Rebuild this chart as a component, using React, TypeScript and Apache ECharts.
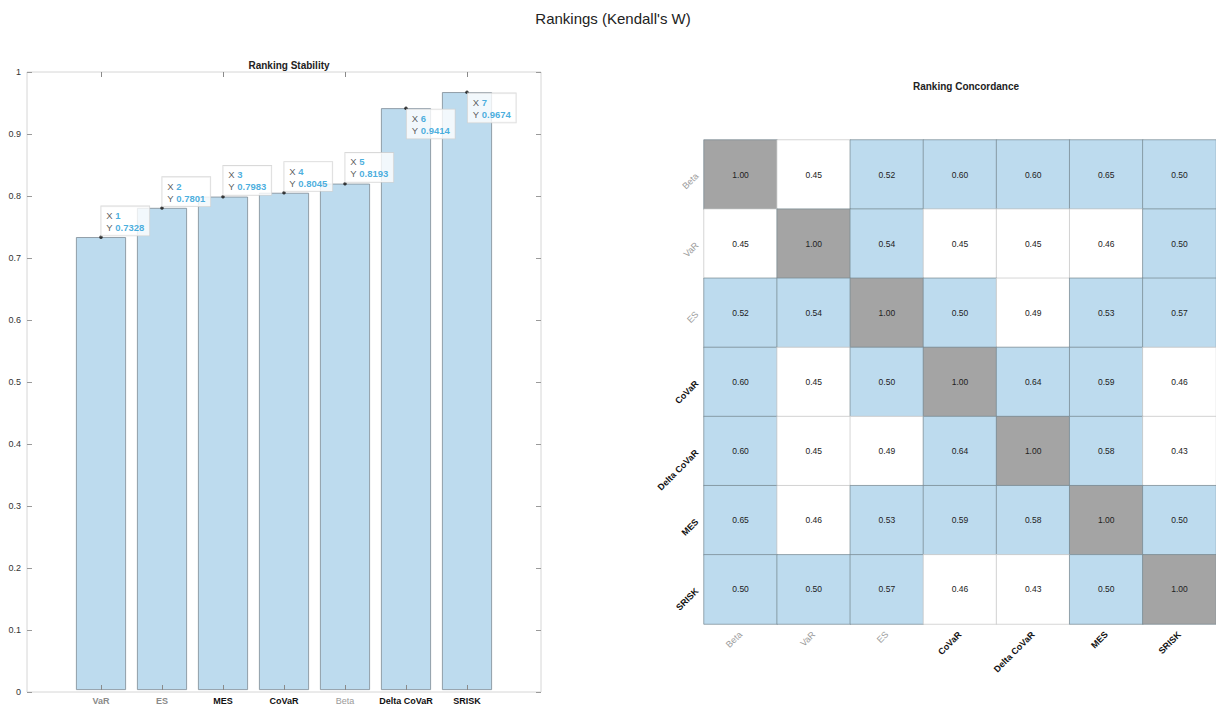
import React, { useEffect, useRef } from "react";
import * as echarts from "echarts";

const barCategories = ["VaR", "ES", "MES", "CoVaR", "Beta", "Delta CoVaR", "SRISK"];
const stabilityValues = [0.7328, 0.7801, 0.7983, 0.8045, 0.8193, 0.9414, 0.9674];
const barLabelStyle = ["g", "g", "b", "b", "l", "b", "b"];

const heatCategories = ["Beta", "VaR", "ES", "CoVaR", "Delta CoVaR", "MES", "SRISK"];
const heatLabelStyle = ["l", "l", "l", "b", "b", "b", "b"];
const rowBeta = [1.0, 0.45, 0.52, 0.6, 0.6, 0.65, 0.5];
const rowVaR = [0.45, 1.0, 0.54, 0.45, 0.45, 0.46, 0.5];
const rowES = [0.52, 0.54, 1.0, 0.5, 0.49, 0.53, 0.57];
const rowCoVaR = [0.6, 0.45, 0.5, 1.0, 0.64, 0.59, 0.46];
const rowDeltaCoVaR = [0.6, 0.45, 0.49, 0.64, 1.0, 0.58, 0.43];
const rowMES = [0.65, 0.46, 0.53, 0.59, 0.58, 1.0, 0.5];
const rowSRISK = [0.5, 0.5, 0.57, 0.46, 0.43, 0.5, 1.0];
const concordanceRows = [rowBeta, rowVaR, rowES, rowCoVaR, rowDeltaCoVaR, rowMES, rowSRISK];

const FONT = "'Liberation Sans', Arial, Helvetica, sans-serif";

const labelRich = {
  g: { color: "#8a8a8a", fontWeight: "bold", fontSize: 9, fontFamily: FONT },
  l: { color: "#9a9a9a", fontWeight: "normal", fontSize: 9, fontFamily: FONT },
  b: { color: "#111111", fontWeight: "bold", fontSize: 9, fontFamily: FONT },
};

export default function App() {
  const ref = useRef<HTMLDivElement>(null);
  useEffect(() => {
    if (!ref.current) return;
    const chart = echarts.init(ref.current, undefined, { renderer: "svg" });

    const heatData: any[] = [];
    concordanceRows.forEach((row, r) => {
      row.forEach((v, c) => {
        heatData.push({
          value: [c, r, v],
          itemStyle: { borderColor: v < 0.495 ? "#c4c4c4" : "#75868f" },
        });
      });
    });

    const tipData = stabilityValues.map((v, i) => {
      const below = v > 0.9;
      return {
        value: [i, v],
        label: below
          ? { position: [2.5, 3], align: "left", verticalAlign: "top" }
          : { position: [2, 0], align: "left", verticalAlign: "bottom" },
      };
    });

    chart.setOption({
      animation: false,
      backgroundColor: "#ffffff",
      textStyle: { fontFamily: FONT },
      title: [
        {
          text: "Rankings (Kendall's W)",
          left: 608,
          top: 6,
          textAlign: "center",
          textStyle: { fontSize: 15, fontWeight: "normal", color: "#222", fontFamily: FONT },
        },
        {
          text: "Ranking Stability",
          left: 284,
          top: 55,
          textAlign: "center",
          textStyle: { fontSize: 10, fontWeight: "bold", color: "#222", fontFamily: FONT },
        },
        {
          text: "Ranking Concordance",
          left: 961,
          top: 76,
          textAlign: "center",
          textStyle: { fontSize: 10, fontWeight: "bold", color: "#222", fontFamily: FONT },
        },
      ],
      grid: [
        {
          left: 27,
          top: 72,
          width: 514,
          height: 620,
          show: true,
          borderColor: "#d6d6d6",
          borderWidth: 1,
          backgroundColor: "#ffffff",
        },
        { left: 70.5, top: 72, width: 427, height: 620 },
        { left: 704, top: 140, width: 514, height: 484 },
      ],
      xAxis: [
        { type: "value", gridIndex: 0, min: 0, max: 1, show: false },
        {
          type: "category",
          gridIndex: 1,
          data: barCategories,
          position: "bottom",
          axisLine: { show: false },
          axisTick: { show: true, inside: true, alignWithLabel: true, length: 5, lineStyle: { color: "#8a8a8a" } },
          axisLabel: {
            margin: 6,
            interval: 0,
            formatter: (v: string) => {
              const i = barCategories.indexOf(v);
              return `{${barLabelStyle[i]}|${v}}`;
            },
            rich: labelRich,
          },
          splitLine: { show: false },
          z: 5,
        },
        {
          type: "category",
          gridIndex: 1,
          data: barCategories,
          position: "top",
          axisLine: { show: false },
          axisTick: { show: true, inside: true, alignWithLabel: true, length: 5, lineStyle: { color: "#8a8a8a" } },
          axisLabel: { show: false },
          z: 5,
        },
        {
          type: "category",
          gridIndex: 2,
          data: heatCategories,
          position: "bottom",
          axisLine: { show: false },
          axisTick: { show: false },
          axisLabel: {
            rotate: 45,
            margin: 9,
            interval: 0,
            formatter: (v: string) => {
              const i = heatCategories.indexOf(v);
              return `{${heatLabelStyle[i]}|${v}}`;
            },
            rich: labelRich,
          },
          splitArea: { show: false },
        },
      ],
      yAxis: [
        {
          type: "value",
          gridIndex: 0,
          min: 0,
          max: 1,
          interval: 0.1,
          position: "left",
          axisLine: { show: false },
          axisTick: { show: true, inside: true, length: 5, lineStyle: { color: "#9a9a9a" } },
          axisLabel: { color: "#333", fontSize: 9, margin: 6, fontFamily: FONT },
          splitLine: { show: false },
        },
        {
          type: "value",
          gridIndex: 0,
          min: 0,
          max: 1,
          interval: 0.1,
          position: "right",
          axisLine: { show: false },
          axisTick: { show: true, inside: true, length: 5, lineStyle: { color: "#9a9a9a" } },
          axisLabel: { show: false },
          splitLine: { show: false },
        },
        { type: "value", gridIndex: 1, min: 0, max: 1, show: false },
        {
          type: "category",
          gridIndex: 2,
          data: heatCategories,
          inverse: true,
          axisLine: { show: false },
          axisTick: { show: false },
          axisLabel: {
            rotate: 45,
            margin: 7,
            interval: 0,
            formatter: (v: string) => {
              const i = heatCategories.indexOf(v);
              return `{${heatLabelStyle[i]}|${v}}`;
            },
            rich: labelRich,
          },
          splitArea: { show: false },
        },
      ],
      visualMap: {
        type: "piecewise",
        show: false,
        seriesIndex: 2,
        dimension: 2,
        pieces: [
          { gte: 0.995, color: "#a4a4a4" },
          { gte: 0.495, lt: 0.995, color: "#bddbee" },
          { lt: 0.495, color: "#ffffff" },
        ],
      },
      series: [
        {
          type: "bar",
          xAxisIndex: 1,
          yAxisIndex: 2,
          data: stabilityValues,
          barWidth: 50,
          itemStyle: { color: "#bddbee", borderColor: "#7d8a94", borderWidth: 0.8 },
          z: 2,
        },
        {
          type: "scatter",
          xAxisIndex: 1,
          yAxisIndex: 2,
          data: tipData,
          symbol: "circle",
          symbolSize: 3.5,
          itemStyle: { color: "#111" },
          z: 10,
          label: {
            show: true,
            backgroundColor: "#ffffff",
            borderColor: "#d0d0d0",
            borderWidth: 0.8,
            padding: [3, 5, 2, 5],
            lineHeight: 12,
            formatter: (p: any) =>
              `{k|X }{v|${p.dataIndex + 1}}\n{k|Y }{v|${p.value[1].toFixed(4)}}`,
            rich: {
              k: { color: "#333", fontSize: 9.5, lineHeight: 12, fontFamily: FONT },
              v: { color: "#1a9ad6", fontSize: 9.5, lineHeight: 12, fontWeight: "bold", fontFamily: FONT },
            },
          },
        },
        {
          type: "heatmap",
          xAxisIndex: 3,
          yAxisIndex: 3,
          data: heatData,
          itemStyle: { borderWidth: 0.7, borderColor: "#75868f" },
          label: {
            show: true,
            fontSize: 8.5,
            color: "#222",
            fontFamily: FONT,
            formatter: (p: any) => p.value[2].toFixed(2),
          },
        },
      ],
    });
    return () => chart.dispose();
  }, []);
  return (
    <div
      ref={ref}
      style={{ position: "fixed", left: 0, top: 0, width: 1216, height: 705, overflow: "hidden" }}
    />
  );
}
